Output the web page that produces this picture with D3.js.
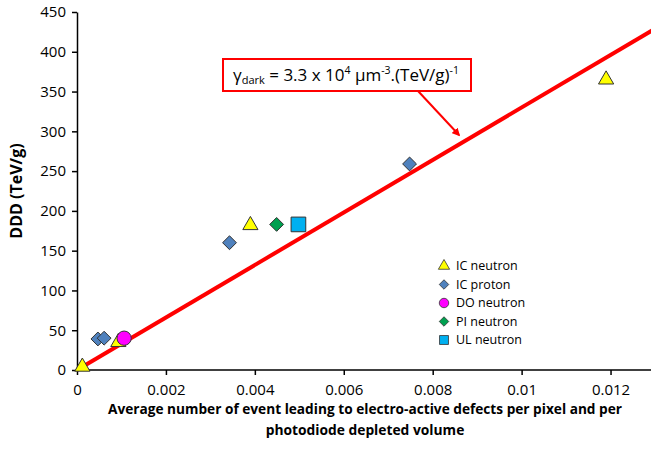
<!DOCTYPE html>
<html><head><meta charset="utf-8">
<script src="https://cdn.jsdelivr.net/npm/d3@7"></script>
<style>body{margin:0;background:#fff}svg{display:block}text{font-family:"Open Sans","Liberation Sans",sans-serif}</style>
</head><body><svg id="c" width="651" height="449"></svg>
<script>
const xTicks = [0, 0.002, 0.004, 0.006, 0.008, 0.01, 0.012];
const yTicks = [0, 50, 100, 150, 200, 250, 300, 350, 400, 450];
const seriesNames = ["IC neutron", "IC proton", "DO neutron", "PI neutron", "UL neutron"];
const icNeutronX = [0.00012, 0.00093, 0.0039, 0.0119];
const icNeutronY = [4, 35, 182, 365];
const icProtonX = [0.00047, 0.00061, 0.00343, 0.00748];
const icProtonY = [39, 40, 160, 259];
const doNeutronX = [0.00106];
const doNeutronY = [40];
const piNeutronX = [0.00449];
const piNeutronY = [183];
const ulNeutronX = [0.00498];
const ulNeutronY = [183];
const fitSlope = 33000;
const fitX = [0, 0.0131];

const svg = d3.select("#c");
const x = d3.scaleLinear().domain([0, 0.013]).range([77, 655]);
const y = d3.scaleLinear().domain([0, 450]).range([370, 12]);

const xAxis = svg.append("g").attr("transform","translate(0,370)")
  .call(d3.axisBottom(x).tickValues(xTicks).tickSize(5).tickSizeOuter(0).tickFormat(d=>d===0?"0":String(+d.toFixed(3))));
const yAxis = svg.append("g").attr("transform","translate(77,0)")
  .call(d3.axisLeft(y).tickValues(yTicks).tickSize(5).tickSizeOuter(0));
[xAxis,yAxis].forEach(a=>{a.selectAll("path,line").attr("stroke","#000").attr("stroke-width",1.5);
  a.selectAll("text").attr("font-size",15).attr("fill","#000").attr("font-family","'Open Sans',sans-serif");});
xAxis.selectAll("text").attr("dy","1.1em");
yAxis.selectAll("text").attr("dx","-0.2em");
xAxis.select("path").attr("transform","translate(77,0)").attr("d","M0,0H578");

svg.append("text").attr("transform","translate(22,191) rotate(-90)").attr("text-anchor","middle")
  .attr("font-size",16).attr("font-weight","bold").text("DDD (TeV/g)");
svg.append("text").attr("x",365).attr("y",414).attr("text-anchor","middle").attr("font-size",13.8).attr("font-weight","bold")
  .attr("textLength",514).attr("lengthAdjust","spacingAndGlyphs")
  .text("Average number of event leading to electro-active defects per pixel and per");
svg.append("text").attr("x",365).attr("y",435).attr("text-anchor","middle").attr("font-size",13.8).attr("font-weight","bold")
  .text("photodiode depleted volume");

// fit line
svg.append("line").attr("x1",x(fitX[0])).attr("y1",y(fitSlope*fitX[0])).attr("x2",x(fitX[1])).attr("y2",y(fitSlope*fitX[1]))
  .attr("stroke","#ff0000").attr("stroke-width",4);

const diamond = {draw(ctx,size){const r=Math.sqrt(size)/Math.SQRT2; ctx.moveTo(0,-r);ctx.lineTo(r,0);ctx.lineTo(0,r);ctx.lineTo(-r,0);ctx.closePath();}};
const sym = {
  "IC neutron": {type:d3.symbolTriangle, size:100, fill:"#ffff00"},
  "IC proton": {type:diamond, size:96, fill:"#4f81bd"},
  "DO neutron": {type:d3.symbolCircle, size:160, fill:"#ff00ff"},
  "PI neutron": {type:diamond, size:96, fill:"#00a050"},
  "UL neutron": {type:d3.symbolSquare, size:215, fill:"#00b0f0"}
};
const data = [
  ["IC proton", icProtonX, icProtonY],
  ["IC neutron", icNeutronX, icNeutronY],
  ["DO neutron", doNeutronX, doNeutronY],
  ["PI neutron", piNeutronX, piNeutronY],
  ["UL neutron", ulNeutronX, ulNeutronY]
];
data.forEach(([name,xs,ys])=>{
  const s = sym[name];
  svg.append("g").selectAll("path").data(xs.map((v,i)=>[v,ys[i]])).join("path")
    .attr("transform",d=>`translate(${x(d[0])},${y(d[1])})`)
    .attr("d",d3.symbol(s.type,s.size)).attr("fill",s.fill).attr("stroke","#333").attr("stroke-width",1);
});

// legend
const lg = svg.append("g").attr("transform","translate(444,266)");
seriesNames.forEach((n,i)=>{
  const s = sym[n];
  const sz = n==="IC neutron"?55:n==="DO neutron"?70:n==="UL neutron"?80:45;
  lg.append("path").attr("transform",`translate(0,${i*18.5})`).attr("d",d3.symbol(s.type,sz))
    .attr("fill",s.fill).attr("stroke","#333").attr("stroke-width",0.8);
  lg.append("text").attr("x",12).attr("y",i*18.5).attr("dy","0.35em").attr("font-size",12.5).text(n);
});

// annotation
svg.append("defs").append("marker").attr("id","ah").attr("viewBox","0 0 10 10").attr("refX",8).attr("refY",5)
  .attr("markerWidth",4).attr("markerHeight",4).attr("orient","auto")
  .append("path").attr("d","M0,0L10,5L0,10z").attr("fill","#ff0000");
svg.append("line").attr("x1",418).attr("y1",91).attr("x2",459).attr("y2",135).attr("stroke","#ff0000").attr("stroke-width",2).attr("marker-end","url(#ah)");
svg.append("rect").attr("x",223).attr("y",59).attr("width",248).attr("height",32).attr("fill","#fff").attr("stroke","#ff0000").attr("stroke-width",2);
const t = svg.append("text").attr("x",233).attr("y",81).attr("font-size",17);
t.append("tspan").text("γ");
t.append("tspan").attr("font-size",11).attr("dy",3).text("dark");
t.append("tspan").attr("dy",-3).text(" = 3.3 x 10");
t.append("tspan").attr("font-size",10.5).attr("dy",-7).text("4");
t.append("tspan").attr("dy",7).text(" µm");
t.append("tspan").attr("font-size",10.5).attr("dy",-7).text("-3");
t.append("tspan").attr("dy",7).text(".(TeV/g)");
t.append("tspan").attr("font-size",10.5).attr("dy",-7).text("-1");
</script></body></html>
